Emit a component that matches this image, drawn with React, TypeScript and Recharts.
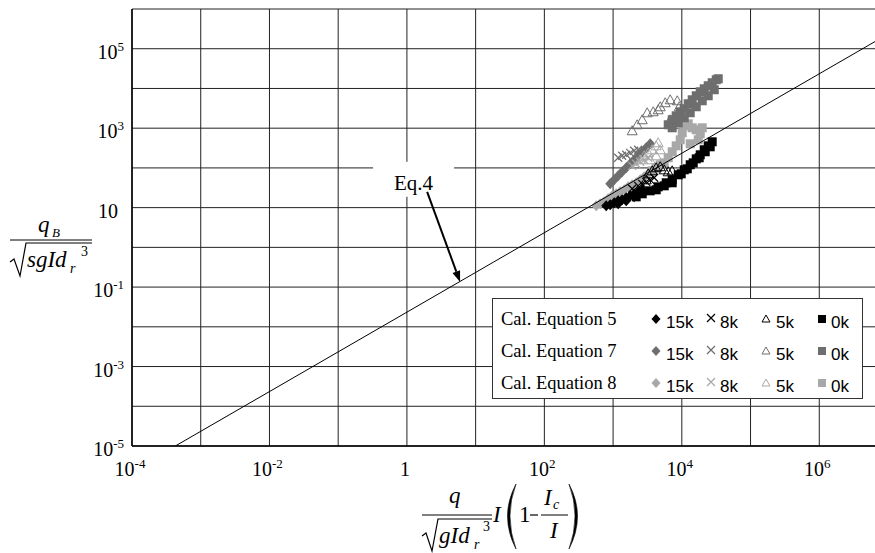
import React from "react";
import { ScatterChart, Scatter, XAxis, YAxis, CartesianGrid, ReferenceArea, ReferenceLine } from "recharts";

type Pt = [number, number];

const xTicks = [1e-4, 1e-3, 1e-2, 1e-1, 1, 10, 100, 1e3, 1e4, 1e5, 1e6, 1e7];
const yTicks = [1e-5, 1e-4, 1e-3, 1e-2, 1e-1, 1, 10, 100, 1e3, 1e4, 1e5, 1e6];

// Eq.4 line and its callout
const eq4Line: Pt[] = [[4.27e-4, 1e-5], [1e7, 2.34e5]];
const eq4Arrow: Pt[] = [[1.97, 25], [5.94, 0.135]];
const eq4Box = { x1: 0.322, x2: 4.86, y1: 18.7, y2: 143 };

// Cal. Equation 5 (black)
const eq5_15k: Pt[] = [[794, 11.1], [908, 11.8], [1038, 13.2], [1186, 14.8], [1355, 15.7], [1552, 17.7], [1774, 19.8], [2028, 22.3], [2317, 25.0], [2655, 28.1], [1186, 12.5], [1552, 14.8], [2028, 18.7]];
const eq5_8k: Pt[] = [[1897, 29.8], [2317, 35.4], [2655, 39.7], [3034, 44.7], [3467, 50.1], [3963, 56.4]];
const eq5_5k: Pt[] = [[3034, 50.1], [3243, 71], [3707, 84.5], [4236, 101], [4853, 107], [5546, 89.5], [6339, 79.8], [7244, 84.5]];
const eq5_0k: Pt[] = [[2168, 18.7], [2655, 22.3], [3467, 26.5], [4529, 33.4], [5929, 42.2], [7244, 50.1], [8872, 67], [10840, 89.5], [13250, 120], [16220, 169], [18530, 214], [21180, 286], [24210, 360], [27670, 454], [4236, 28.1], [5546, 35.4], [7244, 42.2], [9800, 71], [12000, 94.9], [14650, 134], [17900, 180], [21900, 255], [25880, 340]];

// Cal. Equation 7 (dark grey)
const eq7_15k: Pt[] = [[908, 39.7], [1038, 50.1], [1186, 63.2], [1355, 79.8], [1552, 101], [1774, 127], [2028, 160], [2317, 202], [2655, 255], [3034, 321], [3467, 405]];
const eq7_8k: Pt[] = [[1186, 180], [1355, 202], [1552, 214], [1774, 240], [2028, 270], [2317, 286]];
const eq7_5k: Pt[] = [[1897, 861], [2241, 1219], [2655, 1629], [3137, 2443], [3834, 2588], [4853, 3459], [5737, 4365], [6776, 5190], [8580, 4898], [9165, 3459], [6776, 1629], [4529, 2904]];
const eq7_0k: Pt[] = [[6339, 1219], [7244, 1629], [8279, 2051], [9480, 2588], [10840, 3083], [12390, 4121], [14160, 5190], [16220, 6546], [18530, 8260], [21180, 9820], [24210, 11700], [27670, 13930], [31700, 16560], [33880, 17550], [7244, 1023], [8872, 1368], [10840, 1828], [13250, 2443], [16220, 3459], [19820, 4898], [24210, 6546], [29650, 9270]];

// Cal. Equation 8 (light grey)
const eq8_15k: Pt[] = [[568, 11.1], [649, 12.5], [741, 14.0], [849, 16.7], [971, 19.8], [1110, 22.3], [1268, 25.0], [1452, 28.1], [1660, 33.4], [1897, 37.5], [2168, 42.2], [2478, 50.1], [2838, 59.7], [3243, 71]];
const eq8_8k: Pt[] = [[1897, 113], [2168, 127], [2478, 143], [2838, 160], [3243, 180]];
const eq8_5k: Pt[] = [[2478, 160], [2838, 202], [3243, 240], [3707, 286], [4236, 360], [4529, 429], [4853, 286], [4236, 202], [3467, 160]];
const eq8_0k: Pt[] = [[3707, 84.5], [4236, 101], [4853, 120], [5546, 134], [6339, 180], [7244, 255], [8279, 360], [9480, 510], [10140, 766], [10840, 1148], [12390, 1291], [14160, 1023], [16220, 912], [18530, 722], [19820, 1023], [17340, 510], [13250, 405]];

const BLACK = "#000";
const DARK = "#6e6e6e";
const LIGHT = "#a8a8a8";

const serif = "'Liberation Serif', 'Times New Roman', serif";
const sans = "'Liberation Sans', Arial, sans-serif";

const toData = (pts: Pt[]) => pts.map(([x, y]) => ({ x, y }));

const diamond = (color: string, r = 5.5) => (p: any) => (
  <polygon points={`${p.cx},${p.cy - r} ${p.cx + r * 0.9},${p.cy} ${p.cx},${p.cy + r} ${p.cx - r * 0.9},${p.cy}`} fill={color} />
);
const xmark = (color: string, r = 4) => (p: any) => (
  <path d={`M${p.cx - r},${p.cy - r}L${p.cx + r},${p.cy + r}M${p.cx - r},${p.cy + r}L${p.cx + r},${p.cy - r}`} stroke={color} strokeWidth={1.2} fill="none" />
);
const triangle = (color: string) => (p: any) => (
  <polygon points={`${p.cx},${p.cy - 5} ${p.cx + 5},${p.cy + 4} ${p.cx - 5},${p.cy + 4}`} stroke={color} strokeWidth={1} fill="none" />
);
const square = (color: string, s = 9) => (p: any) => (
  <rect x={p.cx - s / 2} y={p.cy - s / 2} width={s} height={s} fill={color} />
);

const series = [
  { data: eq8_15k, shape: diamond(LIGHT) },
  { data: eq8_0k, shape: square(LIGHT) },
  { data: eq7_15k, shape: diamond(DARK) },
  { data: eq7_0k, shape: square(DARK) },
  { data: eq5_15k, shape: diamond(BLACK) },
  { data: eq5_0k, shape: square(BLACK) },
  { data: eq8_8k, shape: xmark(LIGHT) },
  { data: eq7_8k, shape: xmark(DARK) },
  { data: eq5_8k, shape: xmark(BLACK) },
  { data: eq8_5k, shape: triangle(LIGHT) },
  { data: eq7_5k, shape: triangle(DARK) },
  { data: eq5_5k, shape: triangle(BLACK) },
];

const expOf = (v: number) => Math.round(Math.log10(v));

function PowerLabel({ exp }: { exp: number }) {
  if (exp === 0) return <tspan>1</tspan>;
  if (exp === 1) return <tspan>10</tspan>;
  return (
    <>
      <tspan>10</tspan>
      <tspan dy={-8} fontSize={13}>{exp}</tspan>
    </>
  );
}

const XTick = (props: any) => {
  const e = expOf(props.payload.value);
  if (e % 2 !== 0) return <g />;
  return (
    <text x={props.x - 2} y={props.y + 30} textAnchor="middle" fontFamily={serif} fontSize={20} fill="#000">
      <PowerLabel exp={e} />
    </text>
  );
};

const YTick = (props: any) => {
  const e = expOf(props.payload.value);
  if (e % 2 === 0) return <g />;
  return (
    <text x={e === 1 ? props.x - 14 : props.x - 8} y={props.y + 10} textAnchor="end" fontFamily={serif} fontSize={20} fill="#000">
      <PowerLabel exp={e} />
    </text>
  );
};

const arrowShape = (p: any) => {
  const { x1, y1, x2, y2 } = p;
  const a = Math.atan2(y2 - y1, x2 - x1);
  const len = 11;
  const w = 4;
  const bx = x2 - len * Math.cos(a);
  const by = y2 - len * Math.sin(a);
  const pts = `${x2},${y2} ${bx + w * Math.sin(a)},${by - w * Math.cos(a)} ${bx - w * Math.sin(a)},${by + w * Math.cos(a)}`;
  return (
    <g>
      <line x1={x1} y1={y1} x2={bx} y2={by} stroke="#000" strokeWidth={2} />
      <polygon points={pts} fill="#000" />
    </g>
  );
};

const eq4Label = (p: any) => {
  const vb = p.viewBox;
  return (
    <text x={vb.x + vb.width / 2} y={vb.y + 28} textAnchor="middle" fontFamily={serif} fontSize={21} fill="#000">
      Eq.4
    </text>
  );
};

const legendRows = [
  { label: "Cal. Equation 5", color: BLACK },
  { label: "Cal. Equation 7", color: DARK },
  { label: "Cal. Equation 8", color: LIGHT },
];

function Legend() {
  return (
    <div style={{ position: "absolute", left: 492, top: 298, width: 371, height: 101, boxSizing: "border-box", border: "1.5px solid #333", background: "#fff" }}>
      <svg width={368} height={98} style={{ display: "block" }}>
        {legendRows.map((r, i) => {
          const cy = 20 + i * 32;
          return (
            <g key={r.label}>
              <text x={8} y={cy + 6} fontFamily={serif} fontSize={18.5} fill="#000">{r.label}</text>
              {diamond(r.color, 5)({ cx: 163, cy })}
              <text x={173} y={cy + 9} fontFamily={sans} fontSize={17} fill="#000">15k</text>
              {xmark(r.color, 4)({ cx: 218, cy: cy - 1 })}
              <text x={227} y={cy + 9} fontFamily={sans} fontSize={17} fill="#000">8k</text>
              <polygon points={`273,${cy - 4} 277,${cy + 3} 269,${cy + 3}`} stroke={r.color} strokeWidth={1} fill="none" />
              <text x={283} y={cy + 9} fontFamily={sans} fontSize={17} fill="#000">5k</text>
              <rect x={325} y={cy - 4} width={8} height={8} fill={r.color} />
              <text x={338} y={cy + 9} fontFamily={sans} fontSize={17} fill="#000">0k</text>
            </g>
          );
        })}
      </svg>
    </div>
  );
}

function AxisTitles() {
  const it = { fontFamily: serif, fontStyle: "italic" as const, fill: "#000" };
  return (
    <svg width={875} height={553} style={{ position: "absolute", left: 0, top: 0, pointerEvents: "none" }}>
      {/* y title: qB / sqrt(sgId_r^3) */}
      <text x={38} y={232} fontSize={23} {...it}>q</text>
      <text x={52} y={237} fontSize={13} {...it}>B</text>
      <line x1={10} x2={92} y1={240} y2={240} stroke="#000" strokeWidth={1} />
      <path d="M10,262 L14,259 L20,276 L26,243 L92,243" stroke="#000" strokeWidth={1.2} fill="none" />
      <text x={27} y={267} fontSize={23} {...it}>sgId</text>
      <text x={70} y={273} fontSize={14} {...it}>r</text>
      <text x={81} y={256} fontSize={14} fontFamily={serif}>3</text>

      {/* x title: q / sqrt(gId_r^3) * I(1 - Ic/I) */}
      <text x={449} y={503} fontSize={23} {...it}>q</text>
      <line x1={422} x2={492} y1={515} y2={515} stroke="#000" strokeWidth={1} />
      <path d="M422,536 L426,533 L432,551 L438,519 L492,519" stroke="#000" strokeWidth={1.2} fill="none" />
      <text x={439} y={543} fontSize={23} {...it}>gId</text>
      <text x={474} y={549} fontSize={14} {...it}>r</text>
      <text x={483} y={531} fontSize={14} fontFamily={serif}>3</text>
      <text x={493} y={522} fontSize={23} {...it}>I</text>
      <path d="M516,484 Q499,516 516,549 Q504,516 516,484 Z" fill="#000" stroke="#000" strokeWidth={0.6} />
      <text x={519} y={522} fontSize={23} fontFamily={serif}>1</text>
      <line x1={530} x2={538} y1={515} y2={515} stroke="#000" strokeWidth={1.2} />
      <text x={544} y={505} fontSize={23} {...it}>I</text>
      <text x={553} y={509} fontSize={14} {...it}>c</text>
      <line x1={541} x2={568} y1={515} y2={515} stroke="#000" strokeWidth={1} />
      <text x={550} y={538} fontSize={23} {...it}>I</text>
      <path d="M569,484 Q586,516 569,549 Q581,516 569,484 Z" fill="#000" stroke="#000" strokeWidth={0.6} />
    </svg>
  );
}

export default function App() {
  return (
    <div style={{ position: "fixed", left: 0, top: 0, width: 875, height: 553, overflow: "hidden", background: "#fff" }}>
      <ScatterChart width={893} height={553} margin={{ top: 9, right: 5, bottom: 7, left: 0 }}>
        <CartesianGrid stroke="#222" strokeWidth={1} />
        <XAxis
          type="number"
          dataKey="x"
          scale="log"
          domain={[1e-4, 1e7]}
          ticks={xTicks}
          interval={0}
          allowDataOverflow
          height={100}
          tickSize={0}
          tickMargin={0}
          tickLine={false}
          axisLine={{ stroke: "#000", strokeWidth: 1.5 }}
          tick={XTick}
        />
        <YAxis
          type="number"
          dataKey="y"
          scale="log"
          domain={[1e-5, 1e6]}
          ticks={yTicks}
          interval={0}
          allowDataOverflow
          width={132}
          tickSize={0}
          tickMargin={0}
          tickLine={false}
          axisLine={{ stroke: "#000", strokeWidth: 1.5 }}
          tick={YTick}
        />
        <ReferenceArea x1={eq4Box.x1} x2={eq4Box.x2} y1={eq4Box.y1} y2={eq4Box.y2} fill="#fff" fillOpacity={1} stroke="none" label={eq4Label} />
        {series.map((s, i) => (
          <Scatter key={i} data={toData(s.data)} shape={s.shape} isAnimationActive={false} />
        ))}
        <Scatter data={toData(eq4Line)} line={{ stroke: "#000", strokeWidth: 1 }} shape={() => <g />} isAnimationActive={false} />
        <ReferenceLine
          segment={[{ x: eq4Arrow[0][0], y: eq4Arrow[0][1] }, { x: eq4Arrow[1][0], y: eq4Arrow[1][1] }]}
          shape={arrowShape}
        />
      </ScatterChart>
      <AxisTitles />
      <Legend />
    </div>
  );
}
